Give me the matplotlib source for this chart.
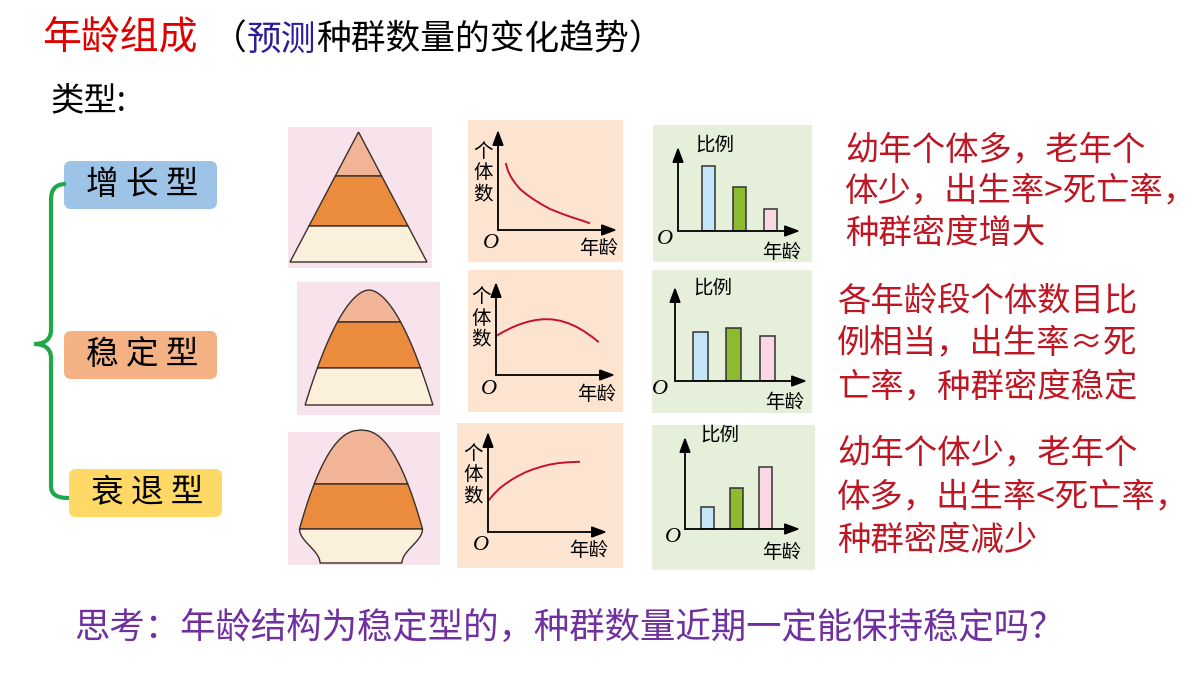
import numpy as np
import matplotlib
matplotlib.use('Agg')
import matplotlib.pyplot as plt
from matplotlib.patches import Rectangle, Polygon, FancyBboxPatch, PathPatch
from matplotlib.path import Path

plt.rcParams['font.family'] = ['Noto Sans CJK SC', 'DejaVu Sans']

W, H = 1200, 675

title_red = '年龄组成'
title_parts = [('（', 'black'), ('预测', '#2B1C9C'), ('种群数量的变化趋势）', 'black')]
type_label = '类型:'
type_names = ['增长型', '稳定型', '衰退型']
type_colors = ['#9DC3E6', '#F4B183', '#FFD966']
descs = [['幼年个体多，老年个', '体少，出生率>死亡率，', '种群密度增大'],
         ['各年龄段个体数目比', '例相当，出生率≈死', '亡率，种群密度稳定'],
         ['幼年个体少，老年个', '体多，出生率<死亡率，', '种群密度减少']]
question = '思考：年龄结构为稳定型的，种群数量近期一定能保持稳定吗？'

# 个体数 vs 年龄 curves
curve_x = [[8, 10, 13, 17, 22, 28, 35, 43, 52, 62, 73, 84, 91],
           [0, 8, 16, 24, 32, 40, 48, 56, 64, 72, 80, 88, 96, 102],
           [0, 6, 12, 18, 24, 30, 38, 46, 54, 62, 70, 78, 86, 91]]
curve_y = [[66, 59, 53, 47, 41, 36, 31, 26, 21, 17, 13, 9.5, 7],
           [39, 43.5, 47.5, 50.8, 53.3, 55, 55.8, 55.6, 54.3, 51.9, 48.4, 43.8, 38.2, 33.5],
           [31, 38, 44, 48.5, 52.5, 56, 60, 63, 65.5, 67.5, 68.8, 69.6, 70, 70.2]]

# 比例 of each age group (young, adult, old)
bar_heights = [[65, 44, 22],
               [49, 53, 45],
               [22, 41, 62]]
bar_colors = ['#C6E4F7', '#8DBA2F', '#F9D8E4']

# band boundaries of the age pyramids (from top)
pyr_bands = [[132, 176, 226, 262],
             [290, 322, 368, 405],
             [430, 484, 529, 563]]
band_colors = ['#F2B496', '#EB8B3E', '#FAF0DC']

fig = plt.figure(figsize=(12, 6.75), dpi=100)
ax = fig.add_axes([0, 0, 1, 1])
ax.set_xlim(0, W)
ax.set_ylim(H, 0)
ax.axis('off')

# title
ax.text(42, 38, title_red, color='#E00000', fontsize=28, va='center', ha='left')
x = 212
for s, c in title_parts:
    ax.text(x, 40, s, color=c, fontsize=25, va='center', ha='left')
    x += len(s) * 34.7
ax.text(50, 101, type_label, fontsize=24, va='center', ha='left')

# type boxes + brace
boxes = [(64, 161, 153, 48), (64, 331, 153, 48), (69, 469, 153, 48)]
for (bx, by, bw, bh), name, col in zip(boxes, type_names, type_colors):
    ax.add_patch(FancyBboxPatch((bx, by), bw, bh, boxstyle='round,pad=0,rounding_size=7',
                                fc=col, ec='none'))
    ax.text(bx + bw / 2 + 2, by + bh / 2, ' '.join(name), fontsize=23.5,
            ha='center', va='center')

verts = [(66, 184), (55, 184), (51, 190), (51, 200), (51, 330),
         (51, 339), (45, 344), (34, 344), (45, 344), (51, 349), (51, 358),
         (51, 486), (51, 494), (56, 498), (69, 498)]
codes = [Path.MOVETO, Path.CURVE4, Path.CURVE4, Path.CURVE4, Path.LINETO,
         Path.CURVE4, Path.CURVE4, Path.CURVE4, Path.CURVE4, Path.CURVE4, Path.CURVE4,
         Path.LINETO, Path.CURVE4, Path.CURVE4, Path.CURVE4]
ax.add_patch(PathPatch(Path(verts, codes), fc='none', ec='#1EA84A', lw=3))

# panel backgrounds
pink = [(288, 127, 144, 141), (297, 282, 143, 133), (288, 432, 152, 133)]
peach = [(468, 120, 155, 142), (468, 270, 155, 142), (457, 423, 166, 145)]
green = [(653, 125, 159, 137), (652, 270, 160, 143), (652, 425, 163, 145)]
for rects, col in [(pink, '#F8E3EC'), (peach, '#FCE4D1'), (green, '#E6EFDA')]:
    for (rx, ry, rw, rh) in rects:
        ax.add_patch(Rectangle((rx, ry), rw, rh, fc=col, ec='none'))

# pyramids
def hw_tri(y):
    return (y - 132) / 130 * 68.5

def hw_bell(y):
    return 4.7 * np.clip(y - 290, 0, None) ** 0.55

def hw_urn(y):
    y = np.asarray(y, dtype=float)
    dome = 61.5 * np.clip((y - 430) / 99, 0, 1) ** 0.45
    t = np.clip((y - 529) / 34, 0, 1)
    foot = 61.5 - 20.5 * (1 - np.cos(np.pi * t)) / 2
    return np.where(y <= 529, dome, foot)

shapes = [(358.5, hw_tri), (369, hw_bell), (361, hw_urn)]
for (cx, hw), bands in zip(shapes, pyr_bands):
    for i in range(3):
        ys = np.linspace(bands[i], bands[i + 1], 80)
        w = hw(ys)
        pts = np.concatenate([np.column_stack([cx - w, ys]),
                              np.column_stack([cx + w, ys])[::-1]])
        ax.add_patch(Polygon(pts, closed=True, fc=band_colors[i], ec='#3B2F2A', lw=1.0))

arrow_kw = dict(arrowstyle='-|>,head_length=0.75,head_width=0.28', color='black',
                lw=1.3, mutation_scale=12, shrinkA=0, shrinkB=0)

def add_arrows(a):
    a.annotate('', xy=(0, 1), xytext=(0, 0), xycoords='axes fraction', arrowprops=arrow_kw)
    a.annotate('', xy=(1, 0), xytext=(0, 0), xycoords='axes fraction', arrowprops=arrow_kw)

o_font = dict(family='Liberation Serif', style='italic', fontsize=16, ha='center', va='center')

# curve panels
curve_axes = [(498, 230, 119, 100), (496, 375, 119, 93), (488, 532, 119, 100)]
for (ox, oy, lx, ly), cx_, cy_ in zip(curve_axes, curve_x, curve_y):
    a = fig.add_axes([ox / W, 1 - oy / H, lx / W, ly / H])
    a.set_xlim(0, lx)
    a.set_ylim(0, ly)
    a.axis('off')
    a.patch.set_alpha(0)
    add_arrows(a)
    a.plot(cx_, cy_, color='#C8102E', lw=1.4)
    ax.text(ox - 15, oy - 57, '个\n体\n数', fontsize=14, ha='center', va='center',
            linespacing=1.05)
    ax.text(ox - 7, oy + 14, 'O', **o_font)
    ax.text(ox + 101, oy + 19, '年龄', fontsize=14, ha='center', va='center')

# bar panels: origin, axis lengths, first bar offset, spacing, width (px)
bar_axes = [(678, 231, 122, 84, 31, 30.5, 13),
            (675, 381, 132, 94, 25, 33.5, 15),
            (685, 529, 115, 92, 22, 29, 13)]
label_off = [((37, -86), (-13, 9), (104, 21)),
             ((38, -93), (-15, 9), (110, 22)),
             ((35, -94), (-12, 9), (97, 24))]
for (ox, oy, lx, ly, off, sp, bw), hts, lo in zip(bar_axes, bar_heights, label_off):
    a = fig.add_axes([ox / W, 1 - oy / H, lx / W, ly / H])
    a.set_xlim(1 - off / sp, 1 + (lx - off) / sp)
    a.set_ylim(0, ly)
    a.axis('off')
    a.patch.set_alpha(0)
    add_arrows(a)
    a.bar([1, 2, 3], hts, width=bw / sp, color=bar_colors, edgecolor='#333333', lw=1.1)
    ax.text(ox + lo[0][0], oy + lo[0][1], '比例', fontsize=14, ha='center', va='center')
    ax.text(ox + lo[1][0], oy + lo[1][1], 'O', **o_font)
    ax.text(ox + lo[2][0], oy + lo[2][1], '年龄', fontsize=14, ha='center', va='center')

# descriptions
desc_pos = [(845, [150, 191, 233]), (837, [301, 344, 388]), (837, [453, 497, 540])]
for (dx, ys), lines in zip(desc_pos, descs):
    for yy, line in zip(ys, lines):
        ax.text(dx, yy, line, color='#BE1622', fontsize=24, ha='left', va='center')

ax.text(74, 628, question, color='#7030A0', fontsize=25.5, ha='left', va='center')

fig.savefig('out.png', dpi=100)
